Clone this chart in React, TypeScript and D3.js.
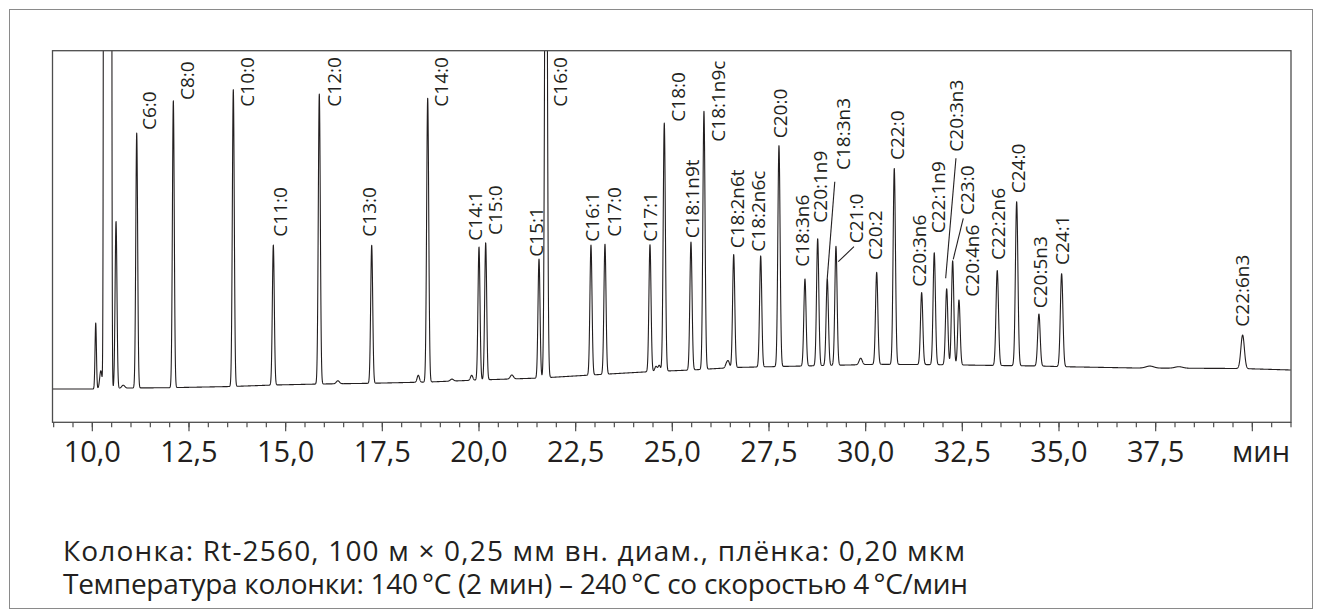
import React from "react";
import * as d3 from "d3";

// ---- data (retention time in min, height in detector units) ----
const peakTimes = [10.088, 10.22, 10.613, 10.8, 11.148, 12.095, 13.646, 14.681, 15.87, 16.35, 17.225, 18.43, 18.673, 19.3, 19.81, 20.0, 20.173, 20.85, 21.552, 21.733, 22.896, 23.258, 24.422, 24.577, 24.662, 24.792, 25.482, 25.818, 26.4, 26.45, 26.587, 27.285, 27.758, 28.43, 28.759, 29.007, 29.232, 29.871, 30.285, 30.74, 31.448, 31.774, 32.095, 32.25, 32.413, 33.403, 33.905, 34.481, 35.068, 37.35, 38.1, 39.749];
const peakHeights = [66, 18, 167, 3, 255, 287, 297, 140, 290, 3, 138, 7, 284, 2, 5, 133, 137, 4, 119, 700, 130, 130, 127, 5, 6, 248, 128, 258, 4, 6, 113, 111, 221, 87, 127, 87, 119, 6.5, 92, 196, 72, 112, 76, 104, 65, 95, 164, 52, 93, 2, 1.5, 33.5];
const peakSigmas = [0.018, 0.03, 0.024, 0.04, 0.024, 0.024, 0.025, 0.025, 0.026, 0.04, 0.026, 0.03, 0.027, 0.04, 0.03, 0.026, 0.026, 0.04, 0.026, 0.03, 0.027, 0.027, 0.027, 0.03, 0.03, 0.028, 0.028, 0.028, 0.03, 0.03, 0.028, 0.028, 0.029, 0.029, 0.029, 0.029, 0.029, 0.04, 0.03, 0.03, 0.03, 0.03, 0.03, 0.03, 0.03, 0.032, 0.032, 0.032, 0.033, 0.1, 0.1, 0.045];

// solvent peak (flat-topped, off scale)
const solventTime = 10.395;
const solventHalfWidth = 0.08;
const solventSigma = 0.017;
const solventHeight = 2000;

// baseline drift
const baselineTimes = [8.97, 10, 11, 12, 13.6, 14.7, 15.9, 17.2, 18.7, 20, 21.6, 22.9, 24.4, 25.5, 26.6, 27.8, 29, 30.3, 32, 33.4, 34.5, 35.1, 37, 39.7, 41];
const baselineLevels = [0, 0, 1, 1.3, 2.5, 4, 5, 5.7, 7, 9, 11, 14, 17.3, 19, 21.5, 22.5, 23.5, 24.7, 24.3, 23.5, 23, 22.3, 21, 20.5, 19];

// peak labels: name, anchor time, anchor level
const labelNames = ["C6:0", "C8:0", "C10:0", "C11:0", "C12:0", "C13:0", "C14:0", "C14:1", "C15:0", "C15:1", "C16:0", "C16:1", "C17:0", "C17:1", "C18:0", "C18:1n9t", "C18:1n9c", "C18:2n6t", "C18:2n6c", "C20:0", "C18:3n6", "C20:1n9", "C18:3n3", "C21:0", "C20:2", "C22:0", "C20:3n6", "C22:1n9", "C20:3n3", "C23:0", "C20:4n6", "C22:2n6", "C24:0", "C20:5n3", "C24:1", "C22:6n3"];
const labelTimes = [11.479, 12.441, 14.006, 14.854, 16.245, 17.161, 19.025, 19.897, 20.427, 21.479, 22.108, 22.935, 23.496, 24.427, 25.151, 25.521, 26.188, 26.685, 27.21, 27.784, 28.366, 28.818, 29.426, 29.744, 30.248, 30.804, 31.384, 31.883, 32.33, 32.633, 32.762, 33.416, 33.933, 34.52, 35.081, 39.744];
const labelLevels = [259, 289, 282.3, 152.3, 282.3, 152.3, 282.3, 148.3, 154, 132.3, 282.3, 147.3, 152.3, 147.3, 267.3, 150.7, 247.3, 140.7, 137.3, 250.7, 122.3, 166.3, 219, 145.7, 129, 229, 102.3, 155.7, 237.3, 174, 92.3, 129, 195.7, 80.7, 124, 62.3];

// leader lines [t1, level1, t2, level2]
const leaderLines = [
  [29.201, 207.3, 29.007, 110.7],
  [29.697, 142.3, 29.291, 127.3],
  [32.335, 230.7, 32.069, 110.7],
  [32.524, 170.7, 32.265, 129.7],
];

const majorTicks = [10, 12.5, 15, 17.5, 20, 22.5, 25, 27.5, 30, 32.5, 35, 37.5, 40];
const majorTickLabels = ["10,0", "12,5", "15,0", "17,5", "20,0", "22,5", "25,0", "27,5", "30,0", "32,5", "35,0", "37,5", ""];
const unitLabel = "мин";
const minorTicks = d3.range(9, 41.01, 0.5);

const captionLines = [
  "Колонка: Rt-2560, 100 м × 0,25 мм вн. диам., плёнка: 0,20 мкм",
  "Температура колонки: 140\u2009°C (2 мин) – 240\u2009°C со скоростью 4\u2009°C/мин",
];
const captionWidths = [902, 905];

export default function App() {
  const W = 1322, H = 610;
  const left = 52.5, right = 1291, top = 50.7, bottom = 422.3;
  const x = d3.scaleLinear().domain([8.97, 41.0]).range([left, right]);
  const y = d3.scaleLinear().domain([0, 338.3]).range([389, top]);
  const base = d3.scaleLinear().domain(baselineTimes).range(baselineLevels).clamp(true);

  const signal = (t: number) => {
    let s = base(t);
    const d = Math.max(0, Math.abs(t - solventTime) - solventHalfWidth) / solventSigma;
    s += solventHeight * Math.exp(-0.5 * d * d);
    for (let i = 0; i < peakTimes.length; i++) {
      const z = (t - peakTimes[i]) / peakSigmas[i];
      if (Math.abs(z) < 8) s += peakHeights[i] * Math.exp(-0.5 * z * z);
    }
    return s;
  };
  const samples = d3.range(8.97, 41.0, 0.003).map((t) => [t, signal(t)] as [number, number]);
  const line = d3.line<[number, number]>().x((d) => x(d[0])).y((d) => y(d[1]));

  const font = "'Open Sans', 'Noto Sans', sans-serif";
  const ink = "#231f20";

  return (
    <svg width={W} height={H} style={{ position: "absolute", left: 0, top: 0 }} xmlns="http://www.w3.org/2000/svg">
      <rect x={0} y={0} width={W} height={H} fill="#fff" />
      <rect x={9.5} y={9.5} width={1303} height={599} fill="none" stroke="#8a8a8a" strokeWidth={1} />
      <defs>
        <clipPath id="plotclip">
          <rect x={left} y={top} width={right - left} height={bottom - top} />
        </clipPath>
      </defs>
      <path d={line(samples) || ""} fill="none" stroke={ink} strokeWidth={1.1} clipPath="url(#plotclip)" strokeLinejoin="round" />
      <rect x={left} y={top} width={right - left} height={bottom - top} fill="none" stroke="#4d4d4d" strokeWidth={1.3} />
      {minorTicks.map((t) => (
        <line key={"m" + t} x1={x(t)} x2={x(t)} y1={bottom} y2={bottom + 5} stroke="#4d4d4d" strokeWidth={1.2} />
      ))}
      {majorTicks.map((t, i) => (
        <g key={"M" + t}>
          <line x1={x(t)} x2={x(t)} y1={bottom} y2={bottom + 9} stroke="#4d4d4d" strokeWidth={1.2} />
          <text x={x(t)} y={462.3} textAnchor="middle" fontFamily={font} fontSize={29} fill={ink}>{majorTickLabels[i]}</text>
        </g>
      ))}
      <text x={1290} y={462.3} textAnchor="end" fontFamily={font} fontSize={29} fill={ink}>{unitLabel}</text>
      {labelNames.map((n, i) => (
        <text key={n} transform={`translate(${x(labelTimes[i])},${y(labelLevels[i])}) rotate(-90)`} dy="0.36em" fontFamily={font} fontSize={19} fill={ink}>{n}</text>
      ))}
      {leaderLines.map((l, i) => (
        <line key={"l" + i} x1={x(l[0])} y1={y(l[1])} x2={x(l[2])} y2={y(l[3])} stroke={ink} strokeWidth={1.1} />
      ))}
      {captionLines.map((c, i) => (
        <text key={"c" + i} x={63} y={561 + i * 33} fontFamily={font} fontSize={28} fill={ink} textLength={captionWidths[i]} lengthAdjust="spacing">{c}</text>
      ))}
    </svg>
  );
}
